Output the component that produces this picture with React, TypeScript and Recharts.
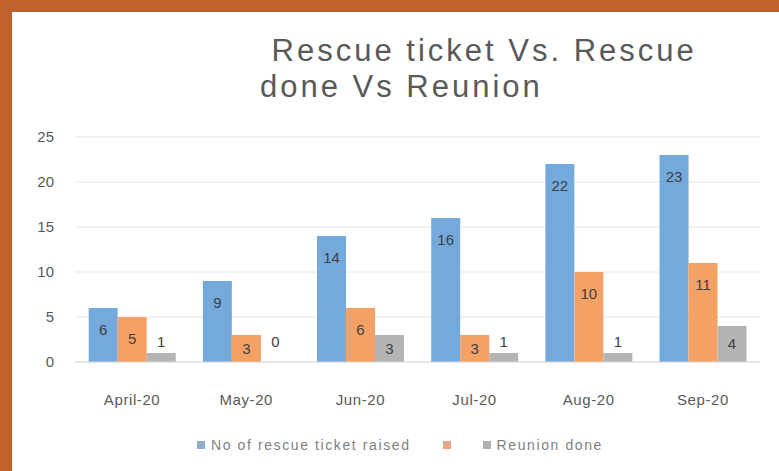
import React from "react";
import {
  BarChart,
  Bar,
  XAxis,
  YAxis,
  CartesianGrid,
  LabelList,
} from "recharts";

const months = ["April-20", "May-20", "Jun-20", "Jul-20", "Aug-20", "Sep-20"];
const ticketsRaised = [6, 9, 14, 16, 22, 23];
const rescueDone = [5, 3, 6, 3, 10, 11];
const reunionDone = [1, 0, 3, 1, 1, 4];
const yTicks = [0, 5, 10, 15, 20, 25];

const seriesKeys = ["raised", "rescued", "reunion"];
const seriesNames = ["No of rescue ticket raised", "", "Reunion done"];
const seriesColors = ["#74a9dc", "#f5a064", "#b4b4b4"];
const legendColors = ["#8eaccc", "#eaa68a", "#b0b0b0"];

const data = months.map((m, i) => ({
  month: m,
  raised: ticketsRaised[i],
  rescued: rescueDone[i],
  reunion: reunionDone[i],
}));

const font = "'Liberation Sans', Arial, sans-serif";

// Excel-ish "inside end" labels; tiny bars get the label above them
const renderLabel = (props: any) => {
  const { x, y, width, height, value } = props;
  const h = Number(height) || 0;
  const cy = h >= 20 ? y + Math.min(22, h / 2) : y + h - 20;
  return (
    <text
      x={x + width / 2}
      y={cy}
      dy="0.35em"
      textAnchor="middle"
      fill="#404040"
      fontSize={15}
      fontFamily={font}
    >
      {value}
    </text>
  );
};

export default function App() {
  return (
    <div
      style={{
        position: "absolute",
        left: 0,
        top: 0,
        width: 779,
        height: 471,
        background: "#c0602a",
        overflow: "hidden",
      }}
    >
      <div
        style={{
          position: "absolute",
          left: 12,
          top: 12,
          right: 0,
          bottom: 0,
          background: "#ffffff",
        }}
      />
      <div
        style={{
          position: "absolute",
          left: 260,
          top: 33,
          fontFamily: font,
          fontSize: 31,
          letterSpacing: 3,
          lineHeight: "36px",
          color: "#595959",
          whiteSpace: "pre",
        }}
      >
        {" Rescue ticket Vs. Rescue\ndone Vs Reunion"}
      </div>
      <div style={{ position: "absolute", left: 0, top: 0 }}>
        <BarChart
          width={779}
          height={471}
          data={data}
          margin={{ top: 137, right: 19, bottom: 79, left: 0 }}
          barCategoryGap="12%"
          barGap={0}
        >
          <CartesianGrid vertical={false} stroke="#e6e6e6" />
          <XAxis
            dataKey="month"
            axisLine={{ stroke: "#d9d9d9" }}
            tickLine={false}
            tickMargin={26}
            height={30}
            tick={{
              fill: "#595959",
              fontSize: 15,
              fontFamily: font,
              letterSpacing: 0.6,
            }}
            interval={0}
          />
          <YAxis
            width={75}
            domain={[0, 25]}
            ticks={yTicks}
            axisLine={false}
            tickLine={false}
            tickSize={0}
            tickMargin={21}
            tick={{ fill: "#595959", fontSize: 15, fontFamily: font }}
          />
          {seriesKeys.map((k, i) => (
            <Bar
              key={k}
              dataKey={k}
              name={seriesNames[i]}
              fill={seriesColors[i]}
              minPointSize={0.01}
              isAnimationActive={false}
            >
              <LabelList dataKey={k} content={renderLabel} />
            </Bar>
          ))}
        </BarChart>
      </div>
      <div
        style={{
          position: "absolute",
          left: 197,
          top: 437,
          display: "flex",
          alignItems: "center",
          fontFamily: font,
          fontSize: 14,
          letterSpacing: 1.6,
          color: "#7f7f7f",
          whiteSpace: "pre",
        }}
      >
        {seriesNames.map((n, i) => (
          <div
            key={i}
            style={{ display: "flex", alignItems: "center", marginRight: 32 }}
          >
            <span
              style={{
                display: "inline-block",
                width: 8,
                height: 8,
                background: legendColors[i],
                marginRight: n ? 6 : 0,
              }}
            />
            <span>{n}</span>
          </div>
        ))}
      </div>
    </div>
  );
}
